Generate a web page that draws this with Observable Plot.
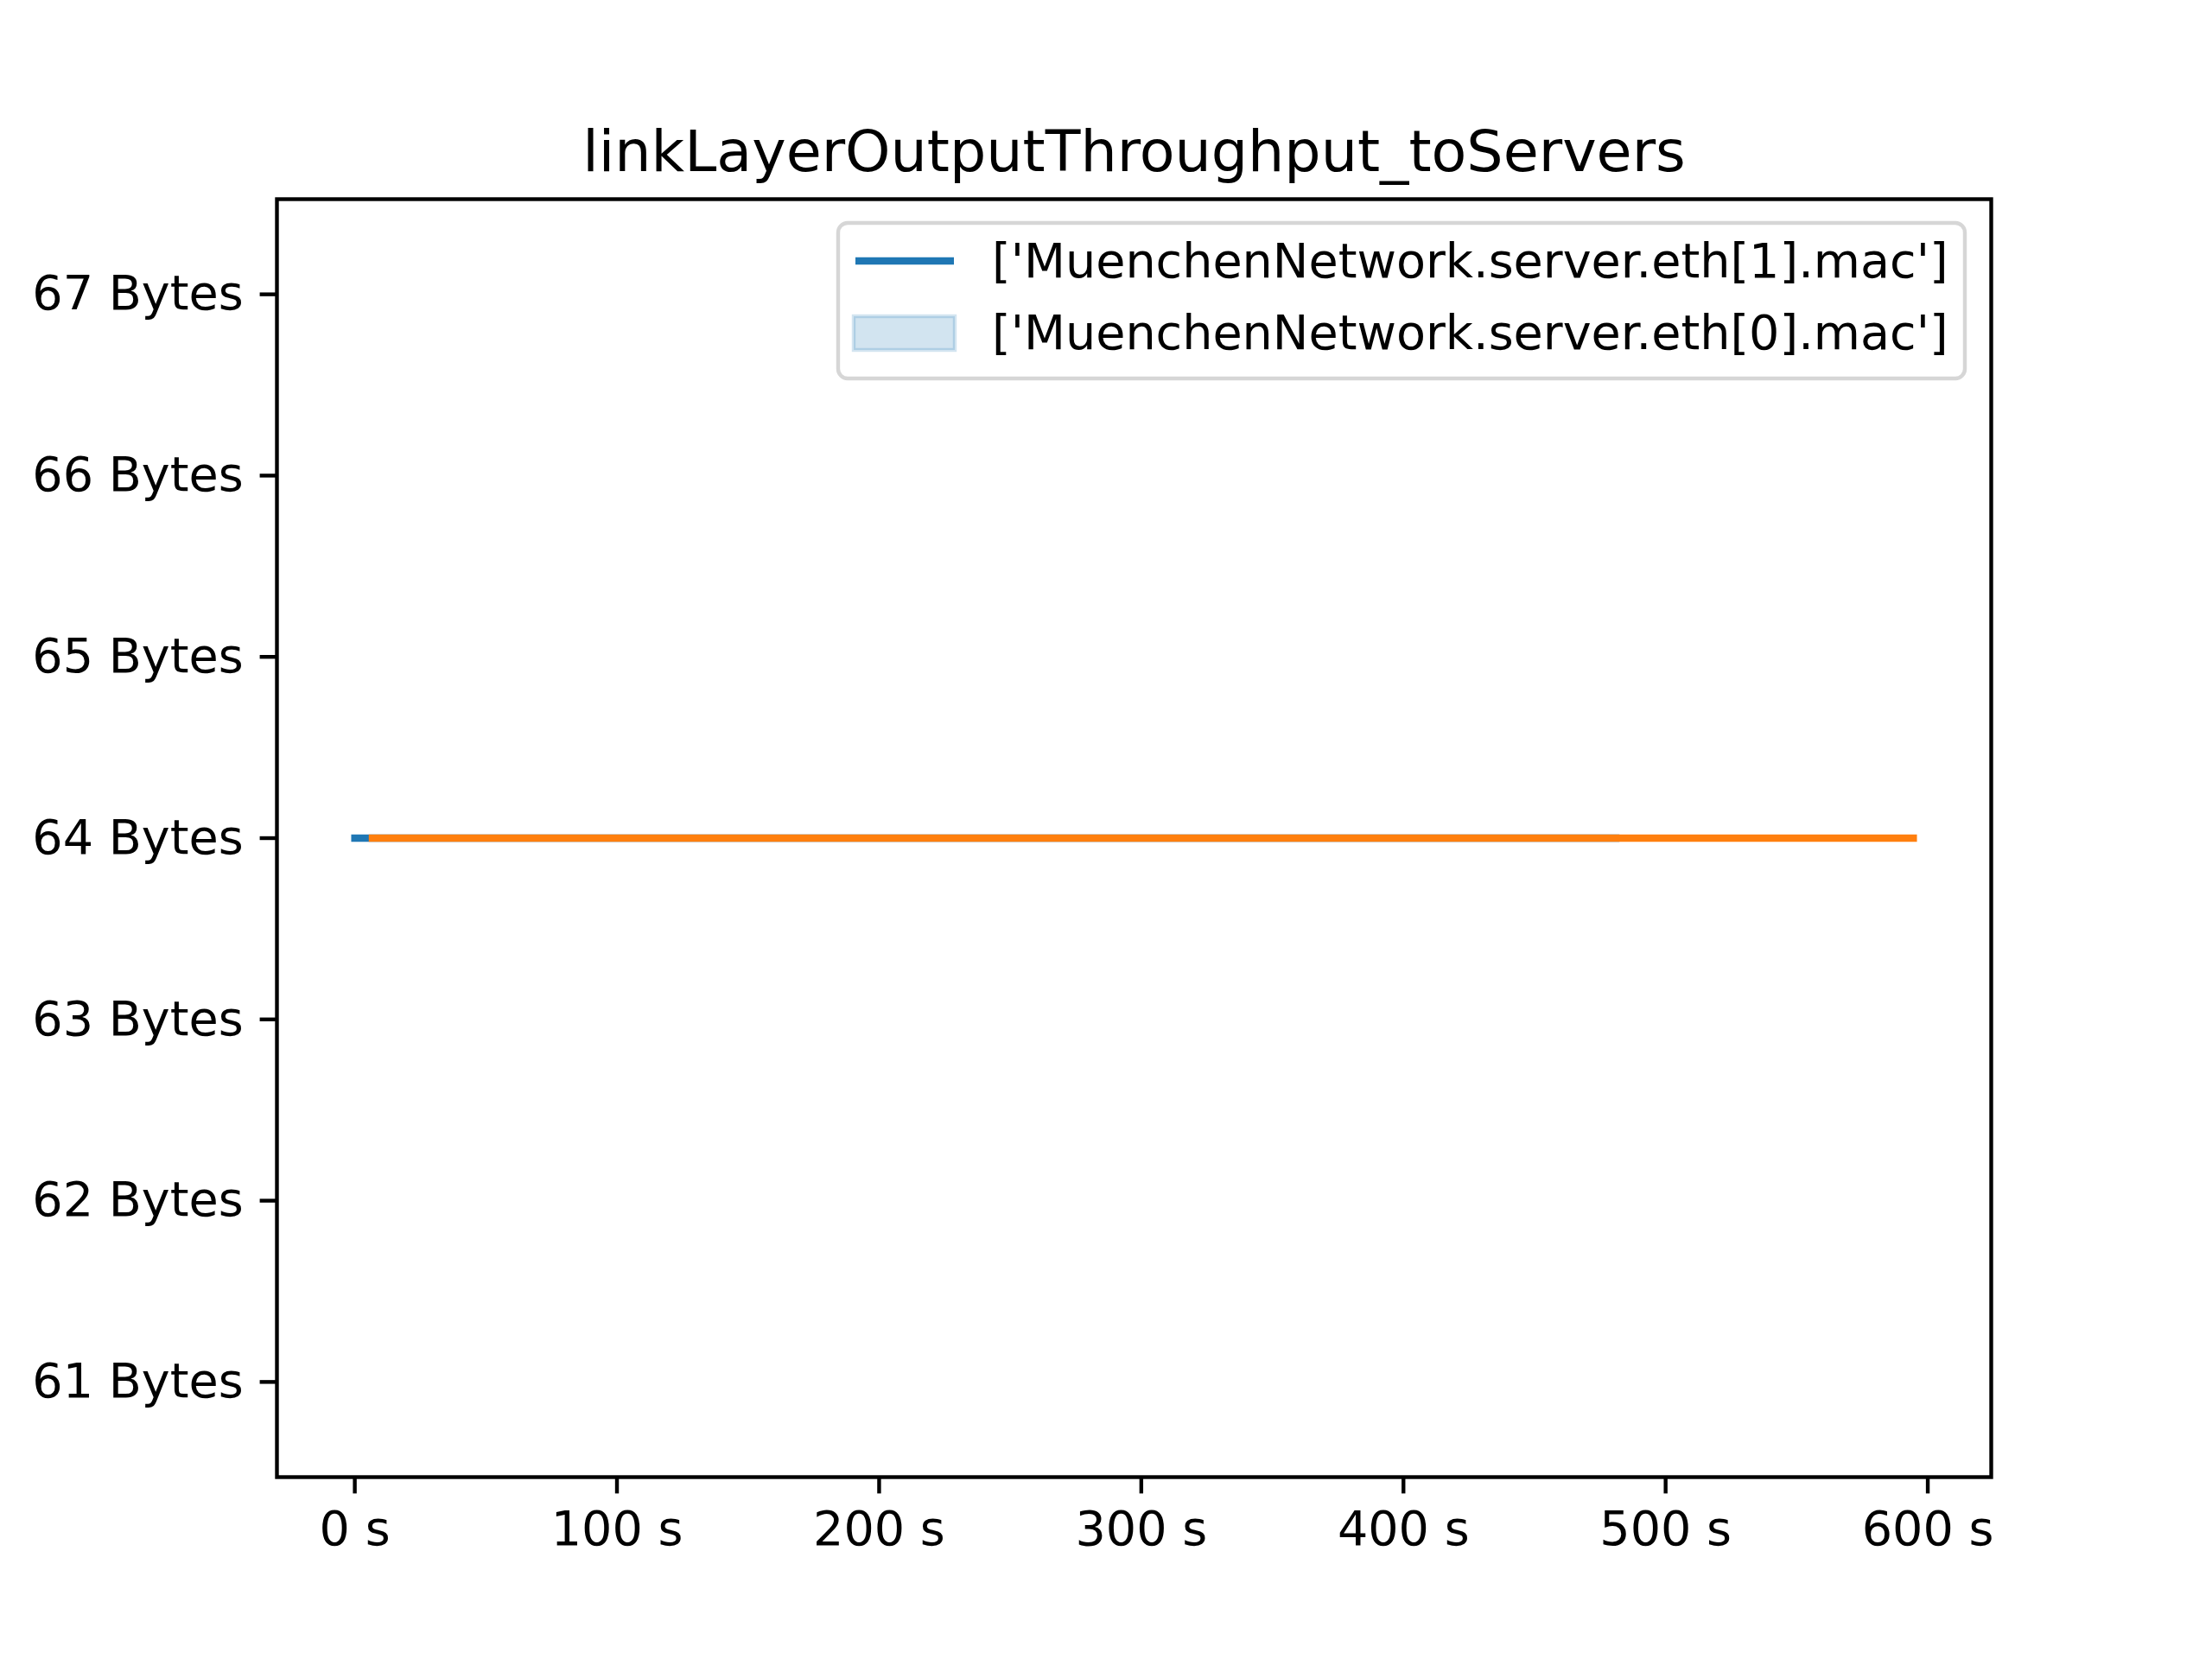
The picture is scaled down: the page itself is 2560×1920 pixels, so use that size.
<!DOCTYPE html>
<html><head><meta charset="utf-8">
<script src="https://cdn.jsdelivr.net/npm/d3@7"></script>
<script src="https://cdn.jsdelivr.net/npm/@observablehq/plot@0.6"></script>
<style>
body{margin:0;background:#fff;}
#wrap{position:relative;width:2560px;height:1920px;font-family:"DejaVu Sans";}
#legend{position:absolute;left:0;top:0;}
</style></head><body><div id="wrap"></div>
<script>
const title = "linkLayerOutputThroughput_toServers";
const seriesNames = ["['MuenchenNetwork.server.eth[1].mac']", "['MuenchenNetwork.server.eth[0].mac']"];
const seriesColors = ["#1f77b4", "#ff7f0e"];
const eth1Time = [0, 481];
const eth1Bytes = [64, 64];
const eth0Time = [6.7, 594.5];
const eth0Bytes = [64, 64];
const xTicks = [0, 100, 200, 300, 400, 500, 600];
const yTicks = [61, 62, 63, 64, 65, 66, 67];

const eth1 = eth1Time.map((t, i) => ({t, v: eth1Bytes[i]}));
const eth0 = eth0Time.map((t, i) => ({t, v: eth0Bytes[i]}));

const FS = 55.6, TICK = 19.4, LW = 4.4;
const chart = Plot.plot({
  width: 2560, height: 1920,
  marginLeft: 320, marginRight: 256, marginTop: 230, marginBottom: 211,
  style: {fontFamily: "DejaVu Sans", fontSize: FS + "px", background: "#fff", color: "#000"},
  x: {domain: [-29.7, 624.2]},
  y: {domain: [60.475, 67.525]},
  marks: [
    Plot.line(eth1, {x: "t", y: "v", stroke: seriesColors[0], strokeWidth: 8.3, strokeLinecap: "square"}),
    Plot.line(eth0, {x: "t", y: "v", stroke: seriesColors[1], strokeWidth: 8.3, strokeLinecap: "square"}),
    Plot.frame({stroke: "#000", strokeWidth: LW}),
    Plot.axisX(xTicks, {tickSize: TICK, tickPadding: TICK, strokeWidth: LW, fontSize: FS, tickFormat: d => `${d} s`, label: null}),
    Plot.axisY(yTicks, {tickSize: TICK, tickPadding: TICK, strokeWidth: LW, fontSize: FS, tickFormat: d => `${d} Bytes`, label: null}),
    Plot.text([title], {text: d => d, frameAnchor: "top", dy: -33, lineAnchor: "bottom", fontSize: 66.7, fill: "#000"})
  ]
});
const wrap = document.getElementById("wrap");
wrap.appendChild(chart);

// legend overlay
const lg = d3.select(wrap).append("svg").attr("id", "legend").attr("width", 2560).attr("height", 1920);
lg.append("rect").attr("x", 970).attr("y", 258).attr("width", 1304).attr("height", 180).attr("rx", 11)
  .attr("fill", "rgba(255,255,255,0.8)").attr("stroke", "rgba(204,204,204,0.8)").attr("stroke-width", LW);
lg.append("line").attr("x1", 990).attr("x2", 1104).attr("y1", 302).attr("y2", 302)
  .attr("stroke", seriesColors[0]).attr("stroke-width", 8.3);
lg.append("rect").attr("x", 988).attr("y", 366).attr("width", 117).attr("height", 39)
  .attr("fill", "rgba(31,119,180,0.2)").attr("stroke", "rgba(31,119,180,0.2)").attr("stroke-width", 4.4);
seriesNames.forEach((n, i) => {
  lg.append("text").attr("x", 1148).attr("y", 302 + i * 83).attr("dy", "0.35em")
    .attr("font-family", "DejaVu Sans").attr("font-size", FS).attr("fill", "#000").text(n);
});
</script></body></html>
